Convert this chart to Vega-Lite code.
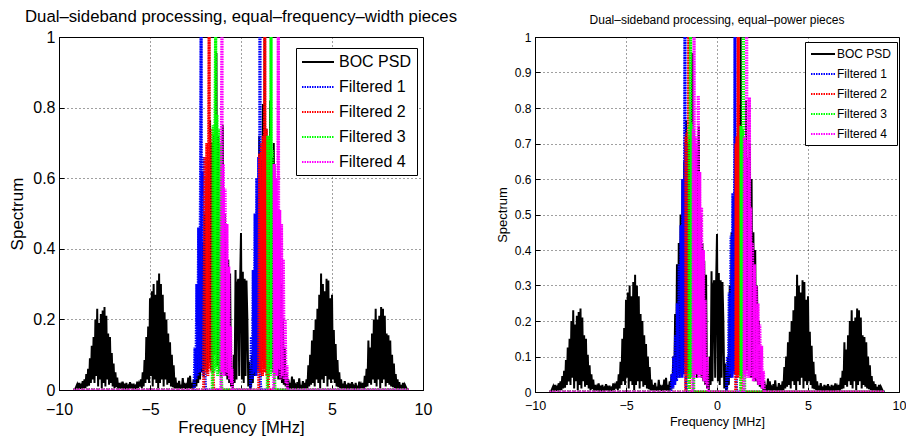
{
"$schema": "https://vega.github.io/schema/vega-lite/v6.json",
"padding": {"left": 8, "top": 8, "right": 0, "bottom": 0},
"background": "white",
"spacing": 112,
"bounds": "flush",
"config": {
 "font": "Liberation Sans",
 "view": {"stroke": "#000", "strokeWidth": 1},
 "axis": {"domainColor": "#000", "tickColor": "#000", "labelColor": "#000", "titleColor": "#000", "grid": true, "gridColor": "#000", "gridDash": [1, 3], "gridOpacity": 0.75, "tickSize": -5, "titleFontWeight": "normal", "labelFlush": false},
 "title": {"fontWeight": "normal", "color": "#000", "anchor": "middle"},
 "legend": {"strokeColor": "#000", "fillColor": "#fff", "labelColor": "#000", "symbolType": "M-1,0H3", "symbolStrokeWidth": 1.8, "cornerRadius": 0}
},
"resolve": {"scale": {"color": "independent", "strokeDash": "independent"}, "legend": {"color": "independent", "strokeDash": "independent"}},
"datasets": {
"boc": [
{"f":-9.2,"s":0,"k":"BOC PSD"},{"f":-9.1,"s":0.004,"k":"BOC PSD"},{"f":-9.0,"s":0.016,"k":"BOC PSD"},{"f":-8.95,"s":0.003,"k":"BOC PSD"},{"f":-8.9,"s":0.02,"k":"BOC PSD"},{"f":-8.85,"s":0.004,"k":"BOC PSD"},{"f":-8.8,"s":0.012,"k":"BOC PSD"},{"f":-8.75,"s":0.002,"k":"BOC PSD"},{"f":-8.7,"s":0.025,"k":"BOC PSD"},{"f":-8.65,"s":0.005,"k":"BOC PSD"},
{"f":-8.6,"s":0.03,"k":"BOC PSD"},{"f":-8.55,"s":0.005,"k":"BOC PSD"},{"f":-8.5,"s":0.045,"k":"BOC PSD"},{"f":-8.45,"s":0.01,"k":"BOC PSD"},{"f":-8.4,"s":0.06,"k":"BOC PSD"},{"f":-8.35,"s":0.012,"k":"BOC PSD"},{"f":-8.3,"s":0.09,"k":"BOC PSD"},{"f":-8.25,"s":0.02,"k":"BOC PSD"},{"f":-8.2,"s":0.125,"k":"BOC PSD"},{"f":-8.15,"s":0.03,"k":"BOC PSD"},{"f":-8.1,"s":0.15,"k":"BOC PSD"},{"f":-8.05,"s":0.02,"k":"BOC PSD"},{"f":-8.0,"s":0.2,"k":"BOC PSD"},{"f":-7.95,"s":0.04,"k":"BOC PSD"},{"f":-7.9,"s":0.23,"k":"BOC PSD"},{"f":-7.85,"s":0.01,"k":"BOC PSD"},{"f":-7.8,"s":0.19,"k":"BOC PSD"},{"f":-7.75,"s":0.03,"k":"BOC PSD"},{"f":-7.7,"s":0.215,"k":"BOC PSD"},{"f":-7.65,"s":0.005,"k":"BOC PSD"},{"f":-7.6,"s":0.225,"k":"BOC PSD"},{"f":-7.55,"s":0.02,"k":"BOC PSD"},{"f":-7.5,"s":0.235,"k":"BOC PSD"},{"f":-7.45,"s":0.01,"k":"BOC PSD"},{"f":-7.4,"s":0.21,"k":"BOC PSD"},{"f":-7.35,"s":0.03,"k":"BOC PSD"},{"f":-7.3,"s":0.16,"k":"BOC PSD"},{"f":-7.25,"s":0.015,"k":"BOC PSD"},{"f":-7.2,"s":0.15,"k":"BOC PSD"},{"f":-7.15,"s":0.02,"k":"BOC PSD"},{"f":-7.1,"s":0.105,"k":"BOC PSD"},{"f":-7.05,"s":0.01,"k":"BOC PSD"},{"f":-7.0,"s":0.075,"k":"BOC PSD"},{"f":-6.95,"s":0.005,"k":"BOC PSD"},{"f":-6.9,"s":0.05,"k":"BOC PSD"},{"f":-6.85,"s":0.008,"k":"BOC PSD"},{"f":-6.8,"s":0.035,"k":"BOC PSD"},{"f":-6.75,"s":0.004,"k":"BOC PSD"},{"f":-6.7,"s":0.02,"k":"BOC PSD"},
{"f":-6.65,"s":0.008,"k":"BOC PSD"},{"f":-6.6,"s":0.015,"k":"BOC PSD"},{"f":-6.55,"s":0.004,"k":"BOC PSD"},{"f":-6.5,"s":0.024,"k":"BOC PSD"},{"f":-6.45,"s":0.006,"k":"BOC PSD"},{"f":-6.4,"s":0.012,"k":"BOC PSD"},{"f":-6.35,"s":0.002,"k":"BOC PSD"},{"f":-6.3,"s":0.02,"k":"BOC PSD"},{"f":-6.25,"s":0.004,"k":"BOC PSD"},{"f":-6.2,"s":0.01,"k":"BOC PSD"},{"f":-6.15,"s":0.002,"k":"BOC PSD"},{"f":-6.1,"s":0.022,"k":"BOC PSD"},{"f":-6.05,"s":0.005,"k":"BOC PSD"},{"f":-6.0,"s":0.012,"k":"BOC PSD"},{"f":-5.95,"s":0.003,"k":"BOC PSD"},{"f":-5.9,"s":0.018,"k":"BOC PSD"},{"f":-5.85,"s":0.004,"k":"BOC PSD"},{"f":-5.8,"s":0.01,"k":"BOC PSD"},{"f":-5.75,"s":0.003,"k":"BOC PSD"},{"f":-5.7,"s":0.024,"k":"BOC PSD"},{"f":-5.65,"s":0.006,"k":"BOC PSD"},{"f":-5.6,"s":0.018,"k":"BOC PSD"},
{"f":-5.55,"s":0.01,"k":"BOC PSD"},{"f":-5.5,"s":0.03,"k":"BOC PSD"},{"f":-5.45,"s":0.006,"k":"BOC PSD"},{"f":-5.4,"s":0.05,"k":"BOC PSD"},{"f":-5.35,"s":0.01,"k":"BOC PSD"},{"f":-5.3,"s":0.085,"k":"BOC PSD"},{"f":-5.25,"s":0.02,"k":"BOC PSD"},{"f":-5.2,"s":0.15,"k":"BOC PSD"},{"f":-5.15,"s":0.03,"k":"BOC PSD"},{"f":-5.1,"s":0.18,"k":"BOC PSD"},{"f":-5.05,"s":0.02,"k":"BOC PSD"},{"f":-5.0,"s":0.26,"k":"BOC PSD"},{"f":-4.95,"s":0.04,"k":"BOC PSD"},{"f":-4.9,"s":0.28,"k":"BOC PSD"},{"f":-4.85,"s":0.01,"k":"BOC PSD"},{"f":-4.8,"s":0.3,"k":"BOC PSD"},{"f":-4.75,"s":0.03,"k":"BOC PSD"},{"f":-4.7,"s":0.27,"k":"BOC PSD"},{"f":-4.65,"s":0.02,"k":"BOC PSD"},{"f":-4.6,"s":0.31,"k":"BOC PSD"},{"f":-4.55,"s":0.005,"k":"BOC PSD"},{"f":-4.5,"s":0.33,"k":"BOC PSD"},{"f":-4.45,"s":0.02,"k":"BOC PSD"},{"f":-4.4,"s":0.3,"k":"BOC PSD"},{"f":-4.35,"s":0.03,"k":"BOC PSD"},{"f":-4.3,"s":0.27,"k":"BOC PSD"},{"f":-4.25,"s":0.01,"k":"BOC PSD"},{"f":-4.2,"s":0.22,"k":"BOC PSD"},{"f":-4.15,"s":0.03,"k":"BOC PSD"},{"f":-4.1,"s":0.2,"k":"BOC PSD"},{"f":-4.05,"s":0.015,"k":"BOC PSD"},{"f":-4.0,"s":0.16,"k":"BOC PSD"},{"f":-3.95,"s":0.02,"k":"BOC PSD"},{"f":-3.9,"s":0.135,"k":"BOC PSD"},{"f":-3.85,"s":0.01,"k":"BOC PSD"},{"f":-3.8,"s":0.1,"k":"BOC PSD"},{"f":-3.75,"s":0.008,"k":"BOC PSD"},{"f":-3.7,"s":0.07,"k":"BOC PSD"},{"f":-3.65,"s":0.005,"k":"BOC PSD"},{"f":-3.6,"s":0.035,"k":"BOC PSD"},
{"f":-3.55,"s":0.004,"k":"BOC PSD"},{"f":-3.5,"s":0.02,"k":"BOC PSD"},{"f":-3.45,"s":0.005,"k":"BOC PSD"},{"f":-3.4,"s":0.026,"k":"BOC PSD"},{"f":-3.35,"s":0.004,"k":"BOC PSD"},{"f":-3.3,"s":0.015,"k":"BOC PSD"},{"f":-3.25,"s":0.003,"k":"BOC PSD"},{"f":-3.2,"s":0.034,"k":"BOC PSD"},{"f":-3.15,"s":0.006,"k":"BOC PSD"},{"f":-3.1,"s":0.02,"k":"BOC PSD"},{"f":-3.05,"s":0.003,"k":"BOC PSD"},{"f":-3.0,"s":0.012,"k":"BOC PSD"},{"f":-2.95,"s":0.004,"k":"BOC PSD"},{"f":-2.9,"s":0.035,"k":"BOC PSD"},{"f":-2.85,"s":0.006,"k":"BOC PSD"},{"f":-2.8,"s":0.04,"k":"BOC PSD"},{"f":-2.75,"s":0.004,"k":"BOC PSD"},{"f":-2.7,"s":0.02,"k":"BOC PSD"},{"f":-2.65,"s":0.003,"k":"BOC PSD"},{"f":-2.6,"s":0.03,"k":"BOC PSD"},
{"f":-2.55,"s":0.005,"k":"BOC PSD"},{"f":-2.5,"s":0.05,"k":"BOC PSD"},{"f":-2.45,"s":0.01,"k":"BOC PSD"},{"f":-2.4,"s":0.1,"k":"BOC PSD"},{"f":-2.35,"s":0.02,"k":"BOC PSD"},{"f":-2.3,"s":0.22,"k":"BOC PSD"},{"f":-2.25,"s":0.03,"k":"BOC PSD"},{"f":-2.2,"s":0.36,"k":"BOC PSD"},{"f":-2.15,"s":0.05,"k":"BOC PSD"},{"f":-2.1,"s":0.42,"k":"BOC PSD"},{"f":-2.05,"s":0.04,"k":"BOC PSD"},{"f":-2.0,"s":0.5,"k":"BOC PSD"},{"f":-1.95,"s":0.06,"k":"BOC PSD"},{"f":-1.9,"s":0.6,"k":"BOC PSD"},{"f":-1.85,"s":0.05,"k":"BOC PSD"},{"f":-1.8,"s":0.65,"k":"BOC PSD"},{"f":-1.75,"s":0.08,"k":"BOC PSD"},{"f":-1.7,"s":0.765,"k":"BOC PSD"},{"f":-1.65,"s":0.06,"k":"BOC PSD"},{"f":-1.6,"s":0.7,"k":"BOC PSD"},{"f":-1.55,"s":0.05,"k":"BOC PSD"},{"f":-1.5,"s":0.72,"k":"BOC PSD"},{"f":-1.45,"s":0.1,"k":"BOC PSD"},{"f":-1.4,"s":0.74,"k":"BOC PSD"},{"f":-1.35,"s":0.955,"k":"BOC PSD"},{"f":-1.3,"s":0.07,"k":"BOC PSD"},{"f":-1.25,"s":0.72,"k":"BOC PSD"},{"f":-1.2,"s":0.05,"k":"BOC PSD"},{"f":-1.15,"s":0.68,"k":"BOC PSD"},{"f":-1.1,"s":0.04,"k":"BOC PSD"},{"f":-1.05,"s":0.62,"k":"BOC PSD"},{"f":-1.0,"s":0.75,"k":"BOC PSD"},{"f":-0.95,"s":0.05,"k":"BOC PSD"},{"f":-0.9,"s":0.5,"k":"BOC PSD"},{"f":-0.85,"s":0.04,"k":"BOC PSD"},{"f":-0.8,"s":0.42,"k":"BOC PSD"},{"f":-0.75,"s":0.03,"k":"BOC PSD"},{"f":-0.7,"s":0.37,"k":"BOC PSD"},{"f":-0.65,"s":0.02,"k":"BOC PSD"},{"f":-0.6,"s":0.33,"k":"BOC PSD"},{"f":-0.55,"s":0.01,"k":"BOC PSD"},{"f":-0.5,"s":0.05,"k":"BOC PSD"},
{"f":-0.45,"s":0.005,"k":"BOC PSD"},{"f":-0.4,"s":0.1,"k":"BOC PSD"},{"f":-0.35,"s":0.02,"k":"BOC PSD"},{"f":-0.3,"s":0.34,"k":"BOC PSD"},{"f":-0.25,"s":0.03,"k":"BOC PSD"},{"f":-0.2,"s":0.3,"k":"BOC PSD"},{"f":-0.15,"s":0.315,"k":"BOC PSD"},{"f":-0.1,"s":0.04,"k":"BOC PSD"},{"f":-0.05,"s":0.3,"k":"BOC PSD"},{"f":0.0,"s":0.445,"k":"BOC PSD"},{"f":0.05,"s":0.03,"k":"BOC PSD"},{"f":0.1,"s":0.335,"k":"BOC PSD"},{"f":0.15,"s":0.02,"k":"BOC PSD"},{"f":0.2,"s":0.315,"k":"BOC PSD"},{"f":0.25,"s":0.04,"k":"BOC PSD"},{"f":0.3,"s":0.31,"k":"BOC PSD"},{"f":0.35,"s":0.2,"k":"BOC PSD"},{"f":0.4,"s":0.01,"k":"BOC PSD"},{"f":0.45,"s":0.08,"k":"BOC PSD"},{"f":0.5,"s":0.004,"k":"BOC PSD"},
{"f":0.55,"s":0.01,"k":"BOC PSD"},{"f":0.6,"s":0.1,"k":"BOC PSD"},{"f":0.65,"s":0.02,"k":"BOC PSD"},{"f":0.7,"s":0.3,"k":"BOC PSD"},{"f":0.75,"s":0.04,"k":"BOC PSD"},{"f":0.8,"s":0.45,"k":"BOC PSD"},{"f":0.85,"s":0.05,"k":"BOC PSD"},{"f":0.9,"s":0.55,"k":"BOC PSD"},{"f":0.95,"s":0.06,"k":"BOC PSD"},{"f":1.0,"s":0.72,"k":"BOC PSD"},{"f":1.05,"s":0.05,"k":"BOC PSD"},{"f":1.1,"s":0.65,"k":"BOC PSD"},{"f":1.15,"s":0.08,"k":"BOC PSD"},{"f":1.2,"s":0.81,"k":"BOC PSD"},{"f":1.25,"s":0.06,"k":"BOC PSD"},{"f":1.3,"s":1.05,"k":"BOC PSD"},{"f":1.35,"s":0.07,"k":"BOC PSD"},{"f":1.4,"s":0.74,"k":"BOC PSD"},{"f":1.45,"s":0.06,"k":"BOC PSD"},{"f":1.5,"s":0.7,"k":"BOC PSD"},{"f":1.55,"s":0.05,"k":"BOC PSD"},{"f":1.6,"s":0.82,"k":"BOC PSD"},{"f":1.65,"s":0.06,"k":"BOC PSD"},{"f":1.7,"s":0.66,"k":"BOC PSD"},{"f":1.75,"s":0.05,"k":"BOC PSD"},{"f":1.8,"s":0.7,"k":"BOC PSD"},{"f":1.85,"s":0.04,"k":"BOC PSD"},{"f":1.9,"s":0.6,"k":"BOC PSD"},{"f":1.95,"s":0.04,"k":"BOC PSD"},{"f":2.0,"s":0.45,"k":"BOC PSD"},{"f":2.05,"s":0.03,"k":"BOC PSD"},{"f":2.1,"s":0.4,"k":"BOC PSD"},{"f":2.15,"s":0.03,"k":"BOC PSD"},{"f":2.2,"s":0.3,"k":"BOC PSD"},{"f":2.25,"s":0.02,"k":"BOC PSD"},{"f":2.3,"s":0.2,"k":"BOC PSD"},{"f":2.35,"s":0.015,"k":"BOC PSD"},{"f":2.4,"s":0.12,"k":"BOC PSD"},{"f":2.45,"s":0.01,"k":"BOC PSD"},{"f":2.5,"s":0.05,"k":"BOC PSD"},{"f":2.55,"s":0.004,"k":"BOC PSD"},
{"f":2.6,"s":0.03,"k":"BOC PSD"},{"f":2.65,"s":0.004,"k":"BOC PSD"},{"f":2.7,"s":0.02,"k":"BOC PSD"},{"f":2.75,"s":0.003,"k":"BOC PSD"},{"f":2.8,"s":0.038,"k":"BOC PSD"},{"f":2.85,"s":0.005,"k":"BOC PSD"},{"f":2.9,"s":0.03,"k":"BOC PSD"},{"f":2.95,"s":0.004,"k":"BOC PSD"},{"f":3.0,"s":0.012,"k":"BOC PSD"},{"f":3.05,"s":0.003,"k":"BOC PSD"},{"f":3.1,"s":0.022,"k":"BOC PSD"},{"f":3.15,"s":0.006,"k":"BOC PSD"},{"f":3.2,"s":0.033,"k":"BOC PSD"},{"f":3.25,"s":0.003,"k":"BOC PSD"},{"f":3.3,"s":0.014,"k":"BOC PSD"},{"f":3.35,"s":0.004,"k":"BOC PSD"},{"f":3.4,"s":0.025,"k":"BOC PSD"},{"f":3.45,"s":0.005,"k":"BOC PSD"},{"f":3.5,"s":0.02,"k":"BOC PSD"},{"f":3.55,"s":0.004,"k":"BOC PSD"},
{"f":3.6,"s":0.03,"k":"BOC PSD"},{"f":3.65,"s":0.005,"k":"BOC PSD"},{"f":3.7,"s":0.07,"k":"BOC PSD"},{"f":3.75,"s":0.01,"k":"BOC PSD"},{"f":3.8,"s":0.1,"k":"BOC PSD"},{"f":3.85,"s":0.015,"k":"BOC PSD"},{"f":3.9,"s":0.14,"k":"BOC PSD"},{"f":3.95,"s":0.02,"k":"BOC PSD"},{"f":4.0,"s":0.17,"k":"BOC PSD"},{"f":4.05,"s":0.01,"k":"BOC PSD"},{"f":4.1,"s":0.2,"k":"BOC PSD"},{"f":4.15,"s":0.03,"k":"BOC PSD"},{"f":4.2,"s":0.23,"k":"BOC PSD"},{"f":4.25,"s":0.02,"k":"BOC PSD"},{"f":4.3,"s":0.27,"k":"BOC PSD"},{"f":4.35,"s":0.005,"k":"BOC PSD"},{"f":4.4,"s":0.33,"k":"BOC PSD"},{"f":4.45,"s":0.03,"k":"BOC PSD"},{"f":4.5,"s":0.3,"k":"BOC PSD"},{"f":4.55,"s":0.02,"k":"BOC PSD"},{"f":4.6,"s":0.28,"k":"BOC PSD"},{"f":4.65,"s":0.04,"k":"BOC PSD"},{"f":4.7,"s":0.315,"k":"BOC PSD"},{"f":4.75,"s":0.01,"k":"BOC PSD"},{"f":4.8,"s":0.31,"k":"BOC PSD"},{"f":4.85,"s":0.03,"k":"BOC PSD"},{"f":4.9,"s":0.26,"k":"BOC PSD"},{"f":4.95,"s":0.02,"k":"BOC PSD"},{"f":5.0,"s":0.27,"k":"BOC PSD"},{"f":5.05,"s":0.03,"k":"BOC PSD"},{"f":5.1,"s":0.17,"k":"BOC PSD"},{"f":5.15,"s":0.02,"k":"BOC PSD"},{"f":5.2,"s":0.13,"k":"BOC PSD"},{"f":5.25,"s":0.01,"k":"BOC PSD"},{"f":5.3,"s":0.085,"k":"BOC PSD"},{"f":5.35,"s":0.008,"k":"BOC PSD"},{"f":5.4,"s":0.05,"k":"BOC PSD"},{"f":5.45,"s":0.005,"k":"BOC PSD"},{"f":5.5,"s":0.03,"k":"BOC PSD"},{"f":5.55,"s":0.004,"k":"BOC PSD"},
{"f":5.6,"s":0.018,"k":"BOC PSD"},{"f":5.65,"s":0.005,"k":"BOC PSD"},{"f":5.7,"s":0.025,"k":"BOC PSD"},{"f":5.75,"s":0.003,"k":"BOC PSD"},{"f":5.8,"s":0.01,"k":"BOC PSD"},{"f":5.85,"s":0.004,"k":"BOC PSD"},{"f":5.9,"s":0.02,"k":"BOC PSD"},{"f":5.95,"s":0.003,"k":"BOC PSD"},{"f":6.0,"s":0.012,"k":"BOC PSD"},{"f":6.05,"s":0.005,"k":"BOC PSD"},{"f":6.1,"s":0.022,"k":"BOC PSD"},{"f":6.15,"s":0.002,"k":"BOC PSD"},{"f":6.2,"s":0.01,"k":"BOC PSD"},{"f":6.25,"s":0.004,"k":"BOC PSD"},{"f":6.3,"s":0.02,"k":"BOC PSD"},{"f":6.35,"s":0.002,"k":"BOC PSD"},{"f":6.4,"s":0.012,"k":"BOC PSD"},{"f":6.45,"s":0.006,"k":"BOC PSD"},{"f":6.5,"s":0.024,"k":"BOC PSD"},{"f":6.55,"s":0.004,"k":"BOC PSD"},{"f":6.6,"s":0.015,"k":"BOC PSD"},{"f":6.65,"s":0.006,"k":"BOC PSD"},
{"f":6.7,"s":0.02,"k":"BOC PSD"},{"f":6.75,"s":0.004,"k":"BOC PSD"},{"f":6.8,"s":0.04,"k":"BOC PSD"},{"f":6.85,"s":0.008,"k":"BOC PSD"},{"f":6.9,"s":0.06,"k":"BOC PSD"},{"f":6.95,"s":0.01,"k":"BOC PSD"},{"f":7.0,"s":0.14,"k":"BOC PSD"},{"f":7.05,"s":0.02,"k":"BOC PSD"},{"f":7.1,"s":0.12,"k":"BOC PSD"},{"f":7.15,"s":0.015,"k":"BOC PSD"},{"f":7.2,"s":0.16,"k":"BOC PSD"},{"f":7.25,"s":0.03,"k":"BOC PSD"},{"f":7.3,"s":0.2,"k":"BOC PSD"},{"f":7.35,"s":0.02,"k":"BOC PSD"},{"f":7.4,"s":0.23,"k":"BOC PSD"},{"f":7.45,"s":0.01,"k":"BOC PSD"},{"f":7.5,"s":0.2,"k":"BOC PSD"},{"f":7.55,"s":0.03,"k":"BOC PSD"},{"f":7.6,"s":0.21,"k":"BOC PSD"},{"f":7.65,"s":0.005,"k":"BOC PSD"},{"f":7.7,"s":0.235,"k":"BOC PSD"},{"f":7.75,"s":0.02,"k":"BOC PSD"},{"f":7.8,"s":0.23,"k":"BOC PSD"},{"f":7.85,"s":0.03,"k":"BOC PSD"},{"f":7.9,"s":0.21,"k":"BOC PSD"},{"f":7.95,"s":0.01,"k":"BOC PSD"},{"f":8.0,"s":0.16,"k":"BOC PSD"},{"f":8.05,"s":0.02,"k":"BOC PSD"},{"f":8.1,"s":0.155,"k":"BOC PSD"},{"f":8.15,"s":0.015,"k":"BOC PSD"},{"f":8.2,"s":0.14,"k":"BOC PSD"},{"f":8.25,"s":0.01,"k":"BOC PSD"},{"f":8.3,"s":0.1,"k":"BOC PSD"},{"f":8.35,"s":0.008,"k":"BOC PSD"},{"f":8.4,"s":0.075,"k":"BOC PSD"},{"f":8.45,"s":0.006,"k":"BOC PSD"},{"f":8.5,"s":0.045,"k":"BOC PSD"},{"f":8.55,"s":0.004,"k":"BOC PSD"},{"f":8.6,"s":0.03,"k":"BOC PSD"},
{"f":8.65,"s":0.005,"k":"BOC PSD"},{"f":8.7,"s":0.022,"k":"BOC PSD"},{"f":8.75,"s":0.003,"k":"BOC PSD"},{"f":8.8,"s":0.014,"k":"BOC PSD"},{"f":8.85,"s":0.004,"k":"BOC PSD"},{"f":8.9,"s":0.02,"k":"BOC PSD"},{"f":8.95,"s":0.003,"k":"BOC PSD"},{"f":9.0,"s":0.015,"k":"BOC PSD"},{"f":9.1,"s":0.004,"k":"BOC PSD"},{"f":9.2,"s":0,"k":"BOC PSD"}
],
"eqw": [
{"f":-9.2,"s":0,"k":"Filtered 1"},{"f":-2.575,"s":0,"k":"Filtered 1"},{"f":-2.525,"s":0.12,"k":"Filtered 1"},{"f":-2.475,"s":0.03,"k":"Filtered 1"},{"f":-2.425,"s":0.3,"k":"Filtered 1"},{"f":-2.375,"s":0.04,"k":"Filtered 1"},{"f":-2.325,"s":0.46,"k":"Filtered 1"},{"f":-2.275,"s":0.05,"k":"Filtered 1"},{"f":-2.225,"s":0.55,"k":"Filtered 1"},{"f":-2.19,"s":1.05,"k":"Filtered 1"},{"f":-2.175,"s":0.06,"k":"Filtered 1"},{"f":-2.125,"s":0.62,"k":"Filtered 1"},{"f":-2.075,"s":0.04,"k":"Filtered 1"},{"f":-2.025,"s":0.66,"k":"Filtered 1"},{"f":-1.975,"s":0.03,"k":"Filtered 1"},{"f":-1.95,"s":0,"k":"Filtered 1"},
{"f":0.525,"s":0,"k":"Filtered 1"},{"f":0.575,"s":0.15,"k":"Filtered 1"},{"f":0.625,"s":0.03,"k":"Filtered 1"},{"f":0.675,"s":0.34,"k":"Filtered 1"},{"f":0.725,"s":0.05,"k":"Filtered 1"},{"f":0.775,"s":0.5,"k":"Filtered 1"},{"f":0.825,"s":0.04,"k":"Filtered 1"},{"f":0.875,"s":0.6,"k":"Filtered 1"},{"f":0.925,"s":0.06,"k":"Filtered 1"},{"f":0.975,"s":0.66,"k":"Filtered 1"},{"f":1.025,"s":0.05,"k":"Filtered 1"},{"f":1.04,"s":1.05,"k":"Filtered 1"},{"f":1.06,"s":0.02,"k":"Filtered 1"},{"f":1.1,"s":0,"k":"Filtered 1"},{"f":9.2,"s":0,"k":"Filtered 1"},
{"f":-9.2,"s":0,"k":"Filtered 2"},{"f":-2.05,"s":0,"k":"Filtered 2"},{"f":-1.975,"s":0.66,"k":"Filtered 2"},{"f":-1.925,"s":0.05,"k":"Filtered 2"},{"f":-1.875,"s":0.7,"k":"Filtered 2"},{"f":-1.825,"s":0.04,"k":"Filtered 2"},{"f":-1.775,"s":0.72,"k":"Filtered 2"},{"f":-1.75,"s":1.05,"k":"Filtered 2"},{"f":-1.725,"s":0.06,"k":"Filtered 2"},{"f":-1.675,"s":0.73,"k":"Filtered 2"},{"f":-1.625,"s":0.05,"k":"Filtered 2"},{"f":-1.575,"s":0.74,"k":"Filtered 2"},{"f":-1.525,"s":0.03,"k":"Filtered 2"},{"f":-1.5,"s":0,"k":"Filtered 2"},
{"f":0.975,"s":0,"k":"Filtered 2"},{"f":1.025,"s":0.67,"k":"Filtered 2"},{"f":1.075,"s":0.05,"k":"Filtered 2"},{"f":1.125,"s":0.7,"k":"Filtered 2"},{"f":1.175,"s":0.04,"k":"Filtered 2"},{"f":1.225,"s":0.72,"k":"Filtered 2"},{"f":1.275,"s":0.06,"k":"Filtered 2"},{"f":1.31,"s":1.05,"k":"Filtered 2"},{"f":1.325,"s":0.05,"k":"Filtered 2"},{"f":1.375,"s":0.74,"k":"Filtered 2"},{"f":1.425,"s":0.04,"k":"Filtered 2"},{"f":1.46,"s":0.72,"k":"Filtered 2"},{"f":1.5,"s":0.02,"k":"Filtered 2"},{"f":1.525,"s":0,"k":"Filtered 2"},{"f":9.2,"s":0,"k":"Filtered 2"},
{"f":-9.2,"s":0,"k":"Filtered 3"},{"f":-1.575,"s":0,"k":"Filtered 3"},{"f":-1.525,"s":0.75,"k":"Filtered 3"},{"f":-1.475,"s":0.05,"k":"Filtered 3"},{"f":-1.425,"s":0.76,"k":"Filtered 3"},{"f":-1.39,"s":1.05,"k":"Filtered 3"},{"f":-1.375,"s":0.06,"k":"Filtered 3"},{"f":-1.325,"s":0.78,"k":"Filtered 3"},{"f":-1.275,"s":0.04,"k":"Filtered 3"},{"f":-1.225,"s":0.74,"k":"Filtered 3"},{"f":-1.175,"s":0.05,"k":"Filtered 3"},{"f":-1.125,"s":0.7,"k":"Filtered 3"},{"f":-1.075,"s":0.03,"k":"Filtered 3"},{"f":-1.05,"s":0,"k":"Filtered 3"},
{"f":1.45,"s":0,"k":"Filtered 3"},{"f":1.475,"s":0.72,"k":"Filtered 3"},{"f":1.525,"s":0.05,"k":"Filtered 3"},{"f":1.575,"s":0.72,"k":"Filtered 3"},{"f":1.625,"s":0.04,"k":"Filtered 3"},{"f":1.65,"s":1.05,"k":"Filtered 3"},{"f":1.675,"s":0.06,"k":"Filtered 3"},{"f":1.725,"s":0.68,"k":"Filtered 3"},{"f":1.775,"s":0.05,"k":"Filtered 3"},{"f":1.825,"s":0.64,"k":"Filtered 3"},{"f":1.85,"s":0.02,"k":"Filtered 3"},{"f":1.875,"s":0,"k":"Filtered 3"},{"f":9.2,"s":0,"k":"Filtered 3"},
{"f":-9.2,"s":0,"k":"Filtered 4"},{"f":-1.1,"s":0,"k":"Filtered 4"},{"f":-1.075,"s":0.68,"k":"Filtered 4"},{"f":-1.045,"s":1.05,"k":"Filtered 4"},{"f":-1.02,"s":0.05,"k":"Filtered 4"},{"f":-0.975,"s":0.64,"k":"Filtered 4"},{"f":-0.925,"s":0.04,"k":"Filtered 4"},{"f":-0.875,"s":0.57,"k":"Filtered 4"},{"f":-0.825,"s":0.05,"k":"Filtered 4"},{"f":-0.775,"s":0.47,"k":"Filtered 4"},{"f":-0.725,"s":0.04,"k":"Filtered 4"},{"f":-0.675,"s":0.35,"k":"Filtered 4"},{"f":-0.625,"s":0.03,"k":"Filtered 4"},{"f":-0.575,"s":0.18,"k":"Filtered 4"},{"f":-0.525,"s":0.02,"k":"Filtered 4"},{"f":-0.5,"s":0.06,"k":"Filtered 4"},{"f":-0.475,"s":0,"k":"Filtered 4"},
{"f":1.8,"s":0,"k":"Filtered 4"},{"f":1.825,"s":0.64,"k":"Filtered 4"},{"f":1.875,"s":0.05,"k":"Filtered 4"},{"f":1.925,"s":0.6,"k":"Filtered 4"},{"f":1.975,"s":0.04,"k":"Filtered 4"},{"f":2.025,"s":0.56,"k":"Filtered 4"},{"f":2.05,"s":1.05,"k":"Filtered 4"},{"f":2.075,"s":0.06,"k":"Filtered 4"},{"f":2.125,"s":0.51,"k":"Filtered 4"},{"f":2.175,"s":0.03,"k":"Filtered 4"},{"f":2.225,"s":0.47,"k":"Filtered 4"},{"f":2.275,"s":0.04,"k":"Filtered 4"},{"f":2.325,"s":0.37,"k":"Filtered 4"},{"f":2.375,"s":0.03,"k":"Filtered 4"},{"f":2.425,"s":0.2,"k":"Filtered 4"},{"f":2.475,"s":0.02,"k":"Filtered 4"},{"f":2.525,"s":0.07,"k":"Filtered 4"},{"f":2.55,"s":0,"k":"Filtered 4"},{"f":9.2,"s":0,"k":"Filtered 4"}
],
"eqp": [
{"f":-9.2,"s":0,"k":"Filtered 1"},{"f":-2.525,"s":0,"k":"Filtered 1"},{"f":-2.475,"s":0.05,"k":"Filtered 1"},{"f":-2.425,"s":0.01,"k":"Filtered 1"},{"f":-2.375,"s":0.1,"k":"Filtered 1"},{"f":-2.325,"s":0.02,"k":"Filtered 1"},{"f":-2.275,"s":0.16,"k":"Filtered 1"},{"f":-2.225,"s":0.03,"k":"Filtered 1"},{"f":-2.175,"s":0.25,"k":"Filtered 1"},{"f":-2.125,"s":0.04,"k":"Filtered 1"},{"f":-2.075,"s":0.36,"k":"Filtered 1"},{"f":-2.025,"s":0.05,"k":"Filtered 1"},{"f":-1.975,"s":0.47,"k":"Filtered 1"},{"f":-1.925,"s":0.04,"k":"Filtered 1"},{"f":-1.875,"s":0.6,"k":"Filtered 1"},{"f":-1.825,"s":0.06,"k":"Filtered 1"},{"f":-1.775,"s":0.68,"k":"Filtered 1"},{"f":-1.76,"s":1.05,"k":"Filtered 1"},{"f":-1.745,"s":0.05,"k":"Filtered 1"},{"f":-1.725,"s":0.7,"k":"Filtered 1"},{"f":-1.7,"s":0.02,"k":"Filtered 1"},{"f":-1.675,"s":0,"k":"Filtered 1"},
{"f":0.525,"s":0,"k":"Filtered 1"},{"f":0.575,"s":0.1,"k":"Filtered 1"},{"f":0.625,"s":0.03,"k":"Filtered 1"},{"f":0.675,"s":0.28,"k":"Filtered 1"},{"f":0.725,"s":0.05,"k":"Filtered 1"},{"f":0.775,"s":0.44,"k":"Filtered 1"},{"f":0.825,"s":0.04,"k":"Filtered 1"},{"f":0.875,"s":0.56,"k":"Filtered 1"},{"f":0.925,"s":0.06,"k":"Filtered 1"},{"f":0.975,"s":0.66,"k":"Filtered 1"},{"f":0.99,"s":1.05,"k":"Filtered 1"},{"f":1.01,"s":0.05,"k":"Filtered 1"},{"f":1.04,"s":0.7,"k":"Filtered 1"},{"f":1.06,"s":0.02,"k":"Filtered 1"},{"f":1.08,"s":0,"k":"Filtered 1"},{"f":9.2,"s":0,"k":"Filtered 1"},
{"f":-9.2,"s":0,"k":"Filtered 2"},{"f":-1.72,"s":0,"k":"Filtered 2"},{"f":-1.7,"s":0.72,"k":"Filtered 2"},{"f":-1.675,"s":0.05,"k":"Filtered 2"},{"f":-1.65,"s":0.73,"k":"Filtered 2"},{"f":-1.625,"s":0.04,"k":"Filtered 2"},{"f":-1.6,"s":0.74,"k":"Filtered 2"},{"f":-1.575,"s":0.06,"k":"Filtered 2"},{"f":-1.55,"s":1.05,"k":"Filtered 2"},{"f":-1.535,"s":0.04,"k":"Filtered 2"},{"f":-1.52,"s":0.74,"k":"Filtered 2"},{"f":-1.5,"s":0,"k":"Filtered 2"},
{"f":1.03,"s":0,"k":"Filtered 2"},{"f":1.05,"s":0.7,"k":"Filtered 2"},{"f":1.075,"s":0.05,"k":"Filtered 2"},{"f":1.1,"s":0.72,"k":"Filtered 2"},{"f":1.125,"s":0.04,"k":"Filtered 2"},{"f":1.15,"s":0.73,"k":"Filtered 2"},{"f":1.17,"s":1.05,"k":"Filtered 2"},{"f":1.19,"s":0.05,"k":"Filtered 2"},{"f":1.225,"s":0.74,"k":"Filtered 2"},{"f":1.25,"s":0.06,"k":"Filtered 2"},{"f":1.275,"s":0.75,"k":"Filtered 2"},{"f":1.3,"s":0.04,"k":"Filtered 2"},{"f":1.32,"s":0.74,"k":"Filtered 2"},{"f":1.34,"s":0,"k":"Filtered 2"},{"f":9.2,"s":0,"k":"Filtered 2"},
{"f":-9.2,"s":0,"k":"Filtered 3"},{"f":-1.54,"s":0,"k":"Filtered 3"},{"f":-1.52,"s":0.75,"k":"Filtered 3"},{"f":-1.5,"s":0.05,"k":"Filtered 3"},{"f":-1.475,"s":0.76,"k":"Filtered 3"},{"f":-1.45,"s":1.05,"k":"Filtered 3"},{"f":-1.43,"s":0.04,"k":"Filtered 3"},{"f":-1.4,"s":0.76,"k":"Filtered 3"},{"f":-1.375,"s":0.05,"k":"Filtered 3"},{"f":-1.35,"s":0.75,"k":"Filtered 3"},{"f":-1.325,"s":0.04,"k":"Filtered 3"},{"f":-1.3,"s":0.74,"k":"Filtered 3"},{"f":-1.28,"s":0,"k":"Filtered 3"},
{"f":1.3,"s":0,"k":"Filtered 3"},{"f":1.32,"s":0.75,"k":"Filtered 3"},{"f":1.345,"s":0.05,"k":"Filtered 3"},{"f":1.375,"s":0.74,"k":"Filtered 3"},{"f":1.4,"s":0.04,"k":"Filtered 3"},{"f":1.425,"s":0.74,"k":"Filtered 3"},{"f":1.45,"s":1.05,"k":"Filtered 3"},{"f":1.47,"s":0.05,"k":"Filtered 3"},{"f":1.5,"s":0.72,"k":"Filtered 3"},{"f":1.52,"s":0,"k":"Filtered 3"},{"f":9.2,"s":0,"k":"Filtered 3"},
{"f":-9.2,"s":0,"k":"Filtered 4"},{"f":-1.32,"s":0,"k":"Filtered 4"},{"f":-1.3,"s":0.74,"k":"Filtered 4"},{"f":-1.275,"s":0.05,"k":"Filtered 4"},{"f":-1.26,"s":1.05,"k":"Filtered 4"},{"f":-1.24,"s":0.04,"k":"Filtered 4"},{"f":-1.2,"s":0.72,"k":"Filtered 4"},{"f":-1.15,"s":0.05,"k":"Filtered 4"},{"f":-1.1,"s":0.7,"k":"Filtered 4"},{"f":-1.05,"s":0.06,"k":"Filtered 4"},{"f":-1.03,"s":0.835,"k":"Filtered 4"},{"f":-1.0,"s":0.04,"k":"Filtered 4"},{"f":-0.95,"s":0.62,"k":"Filtered 4"},{"f":-0.9,"s":0.05,"k":"Filtered 4"},{"f":-0.85,"s":0.52,"k":"Filtered 4"},{"f":-0.8,"s":0.04,"k":"Filtered 4"},{"f":-0.75,"s":0.4,"k":"Filtered 4"},{"f":-0.7,"s":0.03,"k":"Filtered 4"},{"f":-0.65,"s":0.26,"k":"Filtered 4"},{"f":-0.6,"s":0.02,"k":"Filtered 4"},{"f":-0.55,"s":0.1,"k":"Filtered 4"},{"f":-0.5,"s":0.01,"k":"Filtered 4"},{"f":-0.48,"s":0,"k":"Filtered 4"},
{"f":1.48,"s":0,"k":"Filtered 4"},{"f":1.5,"s":0.72,"k":"Filtered 4"},{"f":1.525,"s":0.05,"k":"Filtered 4"},{"f":1.575,"s":0.71,"k":"Filtered 4"},{"f":1.6,"s":0.04,"k":"Filtered 4"},{"f":1.63,"s":1.05,"k":"Filtered 4"},{"f":1.65,"s":0.05,"k":"Filtered 4"},{"f":1.7,"s":0.66,"k":"Filtered 4"},{"f":1.75,"s":0.04,"k":"Filtered 4"},{"f":1.78,"s":0.83,"k":"Filtered 4"},{"f":1.8,"s":0.05,"k":"Filtered 4"},{"f":1.85,"s":0.52,"k":"Filtered 4"},{"f":1.9,"s":0.04,"k":"Filtered 4"},{"f":1.95,"s":0.42,"k":"Filtered 4"},{"f":2.0,"s":0.03,"k":"Filtered 4"},{"f":2.05,"s":0.36,"k":"Filtered 4"},{"f":2.1,"s":0.04,"k":"Filtered 4"},{"f":2.15,"s":0.3,"k":"Filtered 4"},{"f":2.2,"s":0.03,"k":"Filtered 4"},{"f":2.25,"s":0.25,"k":"Filtered 4"},{"f":2.3,"s":0.02,"k":"Filtered 4"},{"f":2.35,"s":0.19,"k":"Filtered 4"},{"f":2.4,"s":0.02,"k":"Filtered 4"},{"f":2.45,"s":0.13,"k":"Filtered 4"},{"f":2.5,"s":0.01,"k":"Filtered 4"},{"f":2.55,"s":0.06,"k":"Filtered 4"},{"f":2.6,"s":0,"k":"Filtered 4"},{"f":9.2,"s":0,"k":"Filtered 4"}
]
},
"hconcat": [
{
 "width": 364, "height": 353,
 "title": {"text": "Dual–sideband processing, equal–frequency–width pieces", "fontSize": 16.75, "offset": 3},
 "encoding": {
  "x": {"field": "f", "type": "quantitative", "scale": {"domain": [-10, 10], "nice": false}, "axis": {"values": [-10, -5, 0, 5, 10], "title": "Frequency [MHz]", "labelFontSize": 16, "titleFontSize": 16.6, "labelPadding": 16, "titlePadding": 2}},
  "y": {"field": "s", "type": "quantitative", "scale": {"domain": [0, 1], "nice": false}, "axis": {"values": [0, 0.2, 0.4, 0.6, 0.8, 1], "format": "~r", "title": "Spectrum", "labelFontSize": 16, "titleFontSize": 17, "labelPadding": 9, "titlePadding": 6}},
  "color": {"field": "k", "type": "nominal", "scale": {"domain": ["BOC PSD", "Filtered 1", "Filtered 2", "Filtered 3", "Filtered 4"], "range": ["#000000", "#0000ff", "#ff0000", "#00ff00", "#ff00ff"]}, "legend": {"title": null, "orient": "none", "legendX": 237, "legendY": 11, "symbolSize": 256, "labelFontSize": 16, "labelOffset": 20, "rowPadding": 8, "padding": 5}},
  "strokeDash": {"field": "k", "type": "nominal", "scale": {"domain": ["BOC PSD", "Filtered 1", "Filtered 2", "Filtered 3", "Filtered 4"], "range": [[1, 0], [1.5, 1], [1.5, 1], [1.5, 1], [1.5, 1]]}, "legend": {"title": null, "orient": "none", "legendX": 237, "legendY": 11, "symbolSize": 256, "labelFontSize": 16, "labelOffset": 20, "rowPadding": 8, "padding": 5}}
 },
 "layer": [
  {"data": {"name": "boc"}, "mark": {"type": "line", "strokeWidth": 2, "clip": true}},
  {"data": {"name": "eqw"}, "mark": {"type": "line", "strokeWidth": 3.2, "clip": true}}
 ]
},
{
 "width": 364, "height": 355,
 "title": {"text": "Dual–sideband processing, equal–power pieces", "fontSize": 12, "offset": 4},
 "encoding": {
  "x": {"field": "f", "type": "quantitative", "scale": {"domain": [-10, 10], "nice": false}, "axis": {"values": [-10, -5, 0, 5, 10], "title": "Frequency [MHz]", "labelFontSize": 12.5, "titleFontSize": 12.5, "labelPadding": 12, "titlePadding": 4}},
  "y": {"field": "s", "type": "quantitative", "scale": {"domain": [0, 1], "nice": false}, "axis": {"values": [0, 0.1, 0.2, 0.3, 0.4, 0.5, 0.6, 0.7, 0.8, 0.9, 1], "format": "~r", "title": "Spectrum", "labelFontSize": 12, "titleFontSize": 13, "labelPadding": 9, "titlePadding": 5}},
  "color": {"field": "k", "type": "nominal", "scale": {"domain": ["BOC PSD", "Filtered 1", "Filtered 2", "Filtered 3", "Filtered 4"], "range": ["#000000", "#0000ff", "#ff0000", "#00ff00", "#ff00ff"]}, "legend": {"title": null, "orient": "none", "legendX": 270, "legendY": 5, "symbolSize": 144, "labelFontSize": 12, "labelOffset": 13, "rowPadding": 7, "padding": 5}},
  "strokeDash": {"field": "k", "type": "nominal", "scale": {"domain": ["BOC PSD", "Filtered 1", "Filtered 2", "Filtered 3", "Filtered 4"], "range": [[1, 0], [1.5, 1], [1.5, 1], [1.5, 1], [1.5, 1]]}, "legend": {"title": null, "orient": "none", "legendX": 270, "legendY": 5, "symbolSize": 144, "labelFontSize": 12, "labelOffset": 13, "rowPadding": 7, "padding": 5}}
 },
 "layer": [
  {"data": {"name": "boc"}, "mark": {"type": "line", "strokeWidth": 2, "clip": true}},
  {"data": {"name": "eqp"}, "mark": {"type": "line", "strokeWidth": 3.2, "clip": true}}
 ]
}
]
}
